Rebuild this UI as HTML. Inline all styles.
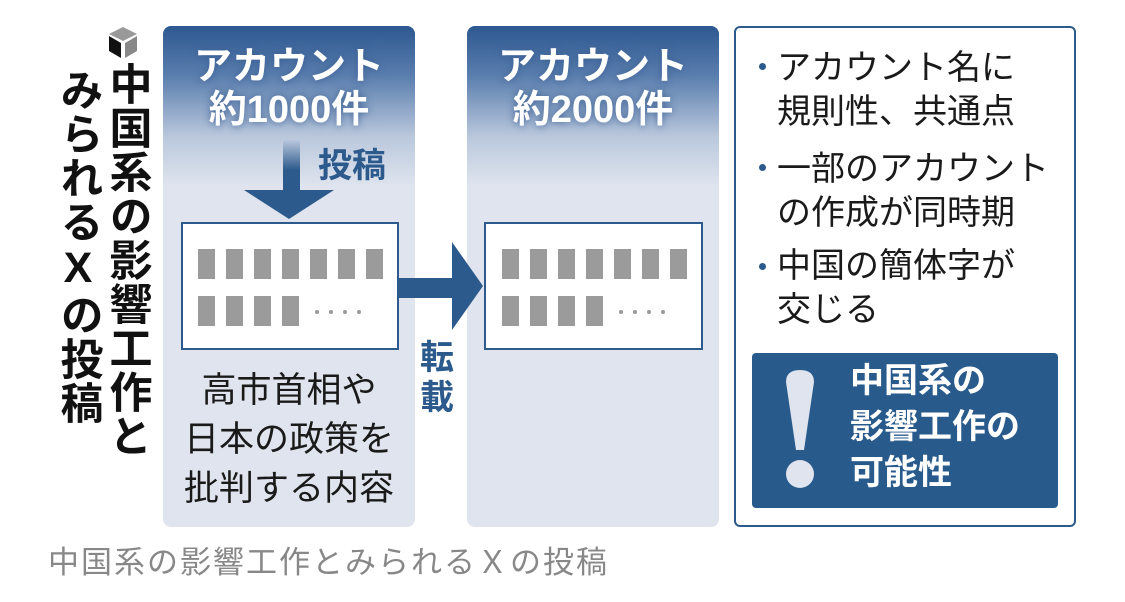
<!DOCTYPE html>
<html><head><meta charset="utf-8"><style>
body{margin:0;width:1125px;height:602px;background:#fff;position:relative;overflow:hidden;font-family:"Liberation Sans","Noto Sans CJK JP",sans-serif}
.a{position:absolute}
.panel{position:absolute;top:26px;width:252px;height:501px;border-radius:8px;background:linear-gradient(#2d5890 0px,#5a7eae 50px,#b9c7dc 110px,#dfe4ee 160px,#dfe4ee)}
.hd{position:absolute;left:0;width:252px;text-align:center;color:#fff;font-weight:bold;font-size:38px;line-height:43px;top:20px;text-shadow:0 0 8px #3b5f92}
.box{position:absolute;top:222px;height:128px;background:#fff;border:2px solid #2c5a8c;box-sizing:border-box}
.g{position:absolute;width:17px;height:30px;background:#9b9b9b}
.vt{position:absolute;writing-mode:vertical-rl;text-orientation:upright;font-weight:bold;font-size:43px;color:#111;letter-spacing:1px}
.rt{position:absolute;left:777px;font-size:34px;line-height:44px;color:#1a1a1a}
.dot{position:absolute;width:7px;height:7px;border-radius:50%;background:#2c5a8c}
</style></head><body>
<svg class="a" style="left:105px;top:25px" width="36" height="36" viewBox="0 0 36 36"><polygon points="18,2 32,9 18,16 4,9" fill="#999"/><polygon points="4,11 16,18 16,33 4,26" fill="#111"/><polygon points="20,18 32,11 32,26 20,33" fill="#888"/></svg>
<div class="vt" style="left:96px;top:62px">中国系の影響工作と</div>
<div class="vt" style="left:47px;top:68px">みられるXの投稿</div>

<div class="panel" style="left:163px">
<div class="hd">アカウント<br>約1000件</div>
</div>
<div class="a" style="left:283px;top:140px;width:17px;height:52px;background:linear-gradient(#b9c7dc,#2c5a8c 30px)"></div>
<svg class="a" style="left:244px;top:190px" width="90" height="29"><polygon points="0,0 90,0 45,29" fill="#2c5a8c"/></svg>
<div class="a" style="left:318px;top:146px;font-size:34px;font-weight:bold;color:#2c5a8c;line-height:40px">投稿</div>
<div class="box" style="left:181px;width:218px"></div>
<div class="a" style="left:163px;top:366px;width:252px;text-align:center;font-size:35px;line-height:49px;color:#1a1a1a">高市首相や<br>日本の政策を<br>批判する内容</div>

<div class="panel" style="left:467px">
<div class="hd">アカウント<br>約2000件</div>
</div>
<div class="box" style="left:484px;width:219px"></div>

<div class="a" style="left:398px;top:278px;width:56px;height:20px;background:#2c5a8c"></div>
<svg class="a" style="left:452px;top:242px" width="31" height="88"><polygon points="0,0 31,44 0,88" fill="#2c5a8c"/></svg>
<div class="a" style="left:420px;top:338px;width:40px;font-size:34px;font-weight:bold;color:#2c5a8c;line-height:40px">転<br>載</div>

<div id="gb"></div>
<script>
var h='';[198,502].forEach(function(x0){for(var i=0;i<7;i++)h+='<div class="g" style="left:'+(x0+i*28)+'px;top:249px"></div>';for(var i=0;i<4;i++)h+='<div class="g" style="left:'+(x0+i*28)+'px;top:296px"></div>';for(var j=0;j<4;j++)h+='<div class="a" style="left:'+(x0+117+j*14)+'px;top:310px;width:4px;height:4px;border-radius:50%;background:#999"></div>';});document.getElementById('gb').innerHTML=h;
</script>

<div class="a" style="left:734px;top:26px;width:342px;height:501px;box-sizing:border-box;border:2px solid #2c5a8c;border-radius:6px"></div>
<div class="dot" style="left:759px;top:63px"></div>
<div class="rt" style="top:46px">アカウント名に<br>規則性、共通点</div>
<div class="dot" style="left:759px;top:164px"></div>
<div class="rt" style="top:147px">一部のアカウント<br>の作成が同時期</div>
<div class="dot" style="left:759px;top:263px"></div>
<div class="rt" style="top:244px">中国の簡体字が<br>交じる</div>
<div class="a" style="left:752px;top:353px;width:306px;height:155px;background:#285a8c;border-radius:4px"></div>
<svg class="a" style="left:782px;top:370px" width="40" height="125"><path d="M4,12 Q4,0 18,0 Q32,0 32,12 L22,80 L14,80 Z" fill="#dfe4ee"/><circle cx="18" cy="104" r="14" fill="#dfe4ee"/></svg>
<div class="a" style="left:850px;top:358px;font-size:34px;font-weight:bold;color:#fff;line-height:46px">中国系の<br>影響工作の<br>可能性</div>

<div class="a" style="left:48px;top:544px;font-size:31px;color:#888;line-height:38px;letter-spacing:2px">中国系の影響工作とみられるＸの投稿</div>
</body></html>
